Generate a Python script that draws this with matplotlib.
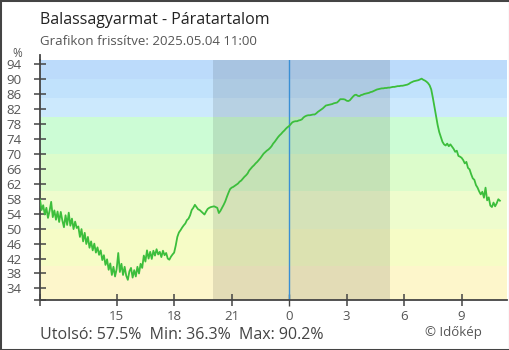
import matplotlib
matplotlib.use("Agg")
import matplotlib.pyplot as plt
import numpy as np
import pandas as pd
from matplotlib.patches import Rectangle
from matplotlib.lines import Line2D

plt.rcParams['font.family'] = ['Open Sans', 'DejaVu Sans']

title = "Balassagyarmat - Páratartalom"
subtitle = "Grafikon frissítve: 2025.05.04 11:00"
unit_label = "%"
footer = "Utolsó: 57.5%  Min: 36.3%  Max: 90.2%"
credit = "© Időkép"

start_time = "2025-05-03 11:00"
midnight = "2025-05-04 00:00"
step = "5min"

# 5-minute humidity readings (%)
humidity_afternoon = [  # 11:00 - 16:55
    57.8, 55.0, 56.3, 53.8, 55.6, 52.9, 54.8, 57.2, 53.1, 54.9, 52.4, 54.6,
    51.8, 54.5, 52.2, 50.4, 53.6, 51.0, 54.3, 50.8, 52.7, 49.9, 51.9, 50.2,
    50.6, 47.8, 49.9, 46.6, 48.9, 45.9, 47.8, 44.9, 46.6, 44.2, 46.0, 43.6,
    45.0, 43.0, 44.2, 41.6, 42.9, 40.3, 41.8, 39.0, 40.7, 37.6, 39.8, 37.2,
    39.2, 43.5, 38.4, 40.6, 37.6, 39.8, 37.4, 36.3, 38.6, 39.5, 36.9, 38.9,
    37.2, 39.8, 38.0, 40.6, 39.5, 42.8, 41.2, 44.2, 42.0, 43.8, 41.9, 44.1,
]
humidity_evening = [  # 17:00 - 22:55
    42.8, 44.5, 43.1, 43.8, 42.4, 44.1, 42.9, 43.5, 42.0, 41.7, 42.5, 43.1,
    43.6, 45.5, 47.8, 49.0, 49.6, 50.3, 50.9, 51.4, 52.3, 52.7, 53.6, 55.0,
    55.6, 56.4, 55.8, 55.2, 55.0, 54.6, 54.2, 53.8, 54.6, 55.3, 55.6, 55.8,
    55.9, 56.0, 55.8, 55.6, 54.2, 54.8, 55.6, 56.4, 57.3, 58.5, 59.6, 60.6,
    61.0, 61.2, 61.5, 61.8, 62.1, 62.6, 62.9, 63.4, 63.9, 64.3, 64.8, 65.6,
    66.1, 66.6, 67.0, 67.5, 67.9, 68.4, 68.9, 69.5, 70.1, 70.5, 70.9, 71.2,
]
humidity_night = [  # 23:00 - 04:55
    71.6, 72.1, 72.8, 73.3, 73.9, 74.5, 75.0, 75.4, 75.9, 76.3, 76.8, 77.2,
    77.5, 78.0, 78.5, 78.7, 78.8, 78.8, 79.0, 79.1, 79.3, 79.8, 80.1, 80.3,
    80.4, 80.4, 80.5, 80.6, 80.6, 80.9, 81.3, 81.6, 81.9, 82.2, 82.6, 83.0,
    83.1, 83.2, 83.3, 83.4, 83.6, 83.7, 83.8, 84.2, 84.7, 84.7, 84.7, 84.6,
    84.3, 84.2, 84.4, 84.9, 85.4, 85.8, 85.9, 85.6, 85.5, 85.8, 85.9, 86.1,
    86.2, 86.3, 86.4, 86.6, 86.7, 86.9, 87.1, 87.3, 87.4, 87.5, 87.6, 87.6,
]
humidity_morning = [  # 05:00 - 11:00
    87.7, 87.7, 87.8, 87.8, 87.9, 88.0, 88.0, 88.1, 88.2, 88.2, 88.3, 88.3,
    88.4, 88.5, 88.6, 88.8, 89.1, 89.3, 89.5, 89.6, 89.7, 89.8, 90.0, 90.2,
    89.9, 89.7, 89.4, 89.0, 88.4, 87.3, 85.1, 82.7, 80.2, 77.8, 75.9, 74.6,
    73.3, 72.6, 72.3, 72.8, 72.1, 72.6, 72.0, 71.4, 70.6, 70.9, 69.5, 69.3,
    69.0, 68.4, 67.5, 67.9, 66.3, 65.9, 64.6, 63.5, 63.1, 61.7, 61.0, 60.0,
    59.2, 59.9, 58.3, 61.0, 57.6, 58.4, 56.2, 55.8, 57.0, 56.0, 56.8, 57.9,
    57.5,
]

x_ticks_hours = [-9, -6, -3, 0, 3, 6, 9]
x_tick_labels = ["15", "18", "21", "0", "3", "6", "9"]
y_tick_values = [34, 38, 42, 46, 50, 54, 58, 62, 66, 70, 74, 78, 82, 86, 90, 94]

sunset = "2025-05-03 20:02"
sunrise = "2025-05-04 05:16"

band_edges = [0, 40, 50, 60, 70, 80, 85, 90, 100]
band_colors = ["#fdf6cb", "#f6fcc6", "#eefccd", "#dcfccb", "#ccfcd5",
               "#cce9fd", "#c1e2fc", "#bcdbfb"]

values = humidity_afternoon + humidity_evening + humidity_night + humidity_morning
times = pd.date_range(start_time, periods=len(values), freq=step)
mid = pd.Timestamp(midnight)
t = (times - mid) / pd.Timedelta(hours=1)
t_sunset = (pd.Timestamp(sunset) - mid) / pd.Timedelta(hours=1)
t_sunrise = (pd.Timestamp(sunrise) - mid) / pd.Timedelta(hours=1)

W, H = 510, 350
fig = plt.figure(figsize=(W / 100, H / 100), dpi=100)
fig.patch.set_facecolor("white")
ax = fig.add_axes([40 / W, 1 - 300 / H, 467 / W, 240 / H])

for lo, hi, c in zip(band_edges[:-1], band_edges[1:], band_colors):
    ax.axhspan(lo, hi, color=c, zorder=0, lw=0)
ax.axvspan(t_sunset, t_sunrise, color="black", alpha=0.1, zorder=1, lw=0)
ax.axvline(0, color="#3a8fd4", lw=1.0, zorder=2)
ax.plot(t, values, color="#3cbe3c", lw=1.3, zorder=3)

ax.set_xlim(t[0], 11.37)
ax.set_ylim(30.9, 95.2)

for s in ["top", "right"]:
    ax.spines[s].set_visible(False)
for s in ["left", "bottom"]:
    ax.spines[s].set_color("#444444")
    ax.spines[s].set_linewidth(1.3)

ax.set_xticks([t[0]] + x_ticks_hours)
ax.set_xticklabels([""] + x_tick_labels)
ax.set_yticks([30.9] + y_tick_values)
ax.set_yticklabels([""] + [str(v) for v in y_tick_values])
ax.tick_params(axis="both", direction="inout", length=8.5, width=1.1,
               color="#444444", labelcolor="#555555", labelsize=9.5)
ax.tick_params(axis="y", pad=9.0)
ax.tick_params(axis="x", pad=3)
for tk, val in zip(ax.xaxis.get_major_ticks(), [t[0]] + x_ticks_hours):
    if val == 0:
        tk.tick1line.set_color("#3a8fd4")
        tk.tick1line.set_markeredgewidth(1.0)

fig.add_artist(Line2D([40 / W, 40 / W], [1 - 60 / H, 1 - 55 / H],
                      color="#444444", lw=1.3, transform=fig.transFigure))

fig.text(40 / W, 1 - 24 / H, title, fontsize=11.5, color="#222222", va="baseline")
fig.text(40 / W, 1 - 45 / H, subtitle, fontsize=9.5, color="#555555", va="baseline")
fig.text(17 / W, 1 - 57 / H, unit_label, fontsize=8.5, color="#555555",
         va="baseline", ha="center")
fig.text(40 / W, 1 - 339 / H, footer, fontsize=11.5, color="#444444", va="baseline")
fig.text(425 / W, 1 - 336 / H, credit, fontsize=9.5, color="#555555", va="baseline")

fig.add_artist(Rectangle((0, 0), 1, 1, transform=fig.transFigure, fill=False,
                         ec="#444444", lw=2.2))

fig.savefig("out.png", dpi=100)
